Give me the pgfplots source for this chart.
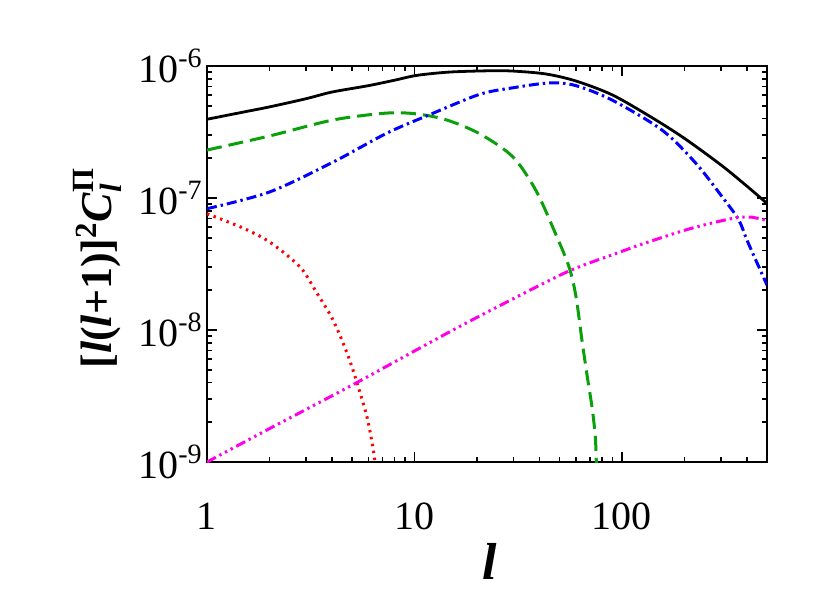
\documentclass[border=0pt]{standalone}
\usepackage{fontspec}
\setmainfont{Liberation Serif}
\usepackage{amsmath}
\usepackage{pgfplots}
\pgfplotsset{compat=1.18}
\definecolor{dgreen}{RGB}{10,160,10}
\definecolor{pmag}{RGB}{255,0,230}

\begin{document}
\begin{tikzpicture}
\useasboundingbox (-103.5pt,-65.5pt) rectangle (311.5pt,231pt);
\begin{axis}[
    at={(0pt,0pt)}, anchor=south west,
    scale only axis,
    width=280pt, height=198pt,
    xmode=log, ymode=log,
    xmin=1, xmax=500,
    ymin=1e-9, ymax=1e-6,
    axis line style={line width=1pt},
    tick style={line width=0.8pt, black},
    tick align=inside,
    xtick pos=both, ytick pos=both,
    xticklabel pos=lower, yticklabel pos=left,
    major tick length=5pt, minor tick length=2.5pt,
    xtick={1,10,100},
    xticklabels={1,10,100},
    minor xtick={2,3,4,5,6,7,8,9,20,30,40,50,60,70,80,90,200,300,400},
    ytick={1e-9,1e-8,1e-7,1e-6},
    yticklabels={10\textsuperscript{-9},10\textsuperscript{-8},10\textsuperscript{-7},10\textsuperscript{-6}},
    minor ytick={2e-9,3e-9,4e-9,5e-9,6e-9,7e-9,8e-9,9e-9,
                 2e-8,3e-8,4e-8,5e-8,6e-8,7e-8,8e-8,9e-8,
                 2e-7,3e-7,4e-7,5e-7,6e-7,7e-7,8e-7,9e-7},
    ticklabel style={font=\fontsize{20}{24}\selectfont},
    xticklabel shift=17pt,
    yticklabel style={inner xsep=2pt},
    xlabel={\textbf{\textit{l}}},
    xlabel style={font=\fontsize{26}{30}\selectfont, at={(axis description cs:0.505,-0.25)}, anchor=center},
    ylabel={\textbf{[\textit{l}(\textit{l}+1)]}\textsuperscript{\textbf{2}}$\textbf{\textit{C}}_{\text{\textbf{\textit{l}}}}^{\text{\textbf{Π}}}$},
    ylabel style={font=\fontsize{22}{26}\selectfont, at={(axis description cs:-0.196,0.49)}, anchor=center},
]
% total
\addplot[black, line width=1.4pt, smooth] coordinates {
    (1,3.95e-7)(1.5,4.48e-7)(2,4.9e-7)(3,5.65e-7)(4,6.35e-7)(6,7.1e-7)(8,7.8e-7)
    (10.3,8.5e-7)(14.8,9.0e-7)(23,9.2e-7)(30,9.15e-7)(43,8.7e-7)(60,7.7e-7)
    (90,6.03e-7)(140,4.05e-7)(200,2.83e-7)(300,1.78e-7)(400,1.23e-7)(500,9.1e-8)};
% green dashed
\addplot[dgreen, line width=1.5pt, dash pattern=on 7.5pt off 3.5pt, smooth] coordinates {
    (1,2.31e-7)(2,2.95e-7)(4.05,3.9e-7)(7.36,4.4e-7)(10.3,4.33e-7)(14.3,3.9e-7)
    (20.6,3.07e-7)(29.8,2.05e-7)(38.5,1.14e-7)(48,5.3e-8)(55.6,3.0e-8)(60,1.8e-8)
    (64.4,8.0e-9)(68.1,4.4e-9)(72,2.5e-9)(74.4,1.55e-9)(75.2,1.03e-9)(76,7e-10)};
% blue dash-dot
\addplot[blue, line width=1.5pt, dash pattern=on 5pt off 2pt on 1.2pt off 2pt, smooth] coordinates {
    (1,8.3e-8)(2,1.11e-7)(4.05,1.87e-7)(7.36,3.1e-7)(11.8,4.27e-7)(20.6,6.1e-7)
    (30,6.85e-7)(45,7.45e-7)(60,7.1e-7)(90,5.5e-7)(156,3.27e-7)(228,1.82e-7)
    (304,1.02e-7)(364,6.9e-8)(405,4.6e-8)(500,2.19e-8)};
% red dotted
\addplot[red, line width=1.5pt, dash pattern=on 1.2pt off 2.3pt, smooth] coordinates {
    (1,7.6e-8)(1.5,5.9e-8)(2.02,4.6e-8)(2.81,3.0e-8)(3.39,1.9e-8)(4.05,1.19e-8)
    (4.73,6.7e-9)(5.28,4.0e-9)(5.9,2.2e-9)(6.3,1.3e-9)(6.5,9e-10)};
% magenta dash-dot-dot-dot
\addplot[pmag, line width=1.5pt, dash pattern=on 5pt off 2pt on 1.2pt off 2pt on 1.2pt off 2pt on 1.2pt off 2pt, smooth] coordinates {
    (1,1.0e-9)(2,1.79e-9)(3,2.5e-9)(5.28,4.0e-9)(14.8,9.7e-9)(29.8,1.72e-8)
    (55.6,2.8e-8)(93.6,3.8e-8)(130,4.57e-8)(200,5.69e-8)(271,6.46e-8)(355,7.08e-8)
    (420,7.16e-8)(500,6.76e-8)};
\end{axis}
\end{tikzpicture}
\end{document}
